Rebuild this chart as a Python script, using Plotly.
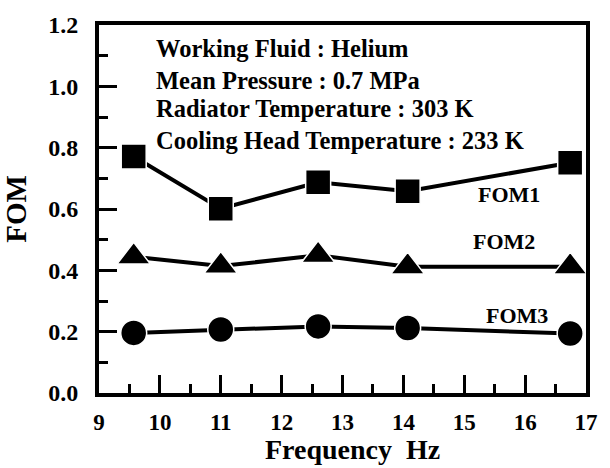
import plotly.graph_objects as go

# Data
freq = [9.57, 11.0, 12.6, 14.07, 16.74]
fom1 = [0.771, 0.601, 0.687, 0.658, 0.751]
fom2 = [0.444, 0.414, 0.449, 0.412, 0.412]
fom3 = [0.196, 0.207, 0.217, 0.212, 0.194]
series_names = ["FOM1", "FOM2", "FOM3"]
info_lines = [
    "Working Fluid : Helium",
    "Mean Pressure : 0.7 MPa",
    "Radiator Temperature : 303 K",
    "Cooling Head Temperature : 233 K",
]

FONT = "Liberation Serif, Times New Roman, serif"
W, H = 610, 468
L, R, T, B = 97.5, 12.5, 20.5, 74.5
PW, PH = W - L - R, H - T - B


def px(x):
    return (x - L) / PW


def py(y):
    return (H - B - y) / PH


fig = go.Figure()
symbols = ["square", "triangle-up", "circle"]
sizes = [25, 29, 26]
for vals, sym, sz, nm in zip([fom1, fom2, fom3], symbols, sizes, series_names):
    fig.add_trace(go.Scatter(
        x=freq, y=vals, mode="lines+markers", name=nm,
        line=dict(color="black", width=4),
        marker=dict(symbol=sym, size=sz, color="black",
                    line=dict(color="white", width=1.5)),
        showlegend=False, cliponaxis=False,
    ))

ann = []
# info text block
info_pos = [44, 77, 105, 138]
for txt, yy in zip(info_lines, info_pos):
    ann.append(dict(x=px(154), y=py(yy), xref="paper", yref="paper",
                    text=txt, showarrow=False, xanchor="left", yanchor="middle",
                    font=dict(family=FONT, size=24.5, color="black", weight="bold")))
# series labels
label_pos = [(518, 192), (513, 240), (527, 315)]
for nm, (xx, yy) in zip(series_names, label_pos):
    ann.append(dict(x=px(xx), y=py(yy), xref="paper", yref="paper",
                    text=nm, showarrow=False, xanchor="center", yanchor="middle",
                    font=dict(family=FONT, size=22, color="black", weight="bold")))
# x title
ann.append(dict(x=px(358), y=py(451), xref="paper", yref="paper",
                text="Frequency  Hz", showarrow=False, xanchor="center", yanchor="middle",
                font=dict(family=FONT, size=28, color="black", weight="bold")))

fig.update_layout(
    width=W, height=H,
    margin=dict(l=L, r=R, t=T, b=B, pad=0),
    paper_bgcolor="white", plot_bgcolor="white",
    font=dict(family=FONT, color="black", weight="bold"),
    annotations=ann,
)
fig.update_xaxes(
    range=[9, 17], dtick=1, tick0=9,
    showgrid=False, zeroline=False,
    showline=True, linewidth=4, linecolor="black", mirror=True,
    ticks="inside", ticklen=18, tickwidth=3, tickcolor="black",
    minor=dict(ticks="inside", ticklen=9, tickwidth=3, tickcolor="black", dtick=0.5, showgrid=False),
    tickfont=dict(family=FONT, size=23, color="black", weight="bold"),
    ticklabelstandoff=5,
)
fig.update_yaxes(
    range=[0, 1.2], dtick=0.2, tick0=0, tickformat=".1f",
    showgrid=False, zeroline=False,
    showline=True, linewidth=4, linecolor="black", mirror=True,
    ticks="inside", ticklen=18, tickwidth=3, tickcolor="black",
    minor=dict(ticks="inside", ticklen=9, tickwidth=3, tickcolor="black", dtick=0.1, showgrid=False),
    tickfont=dict(family=FONT, size=24, color="black", weight="bold"),
    ticklabelstandoff=12,
    title=dict(text="FOM", font=dict(family=FONT, size=29, color="black", weight="bold"), standoff=16),
)

fig.write_html("out.html")
